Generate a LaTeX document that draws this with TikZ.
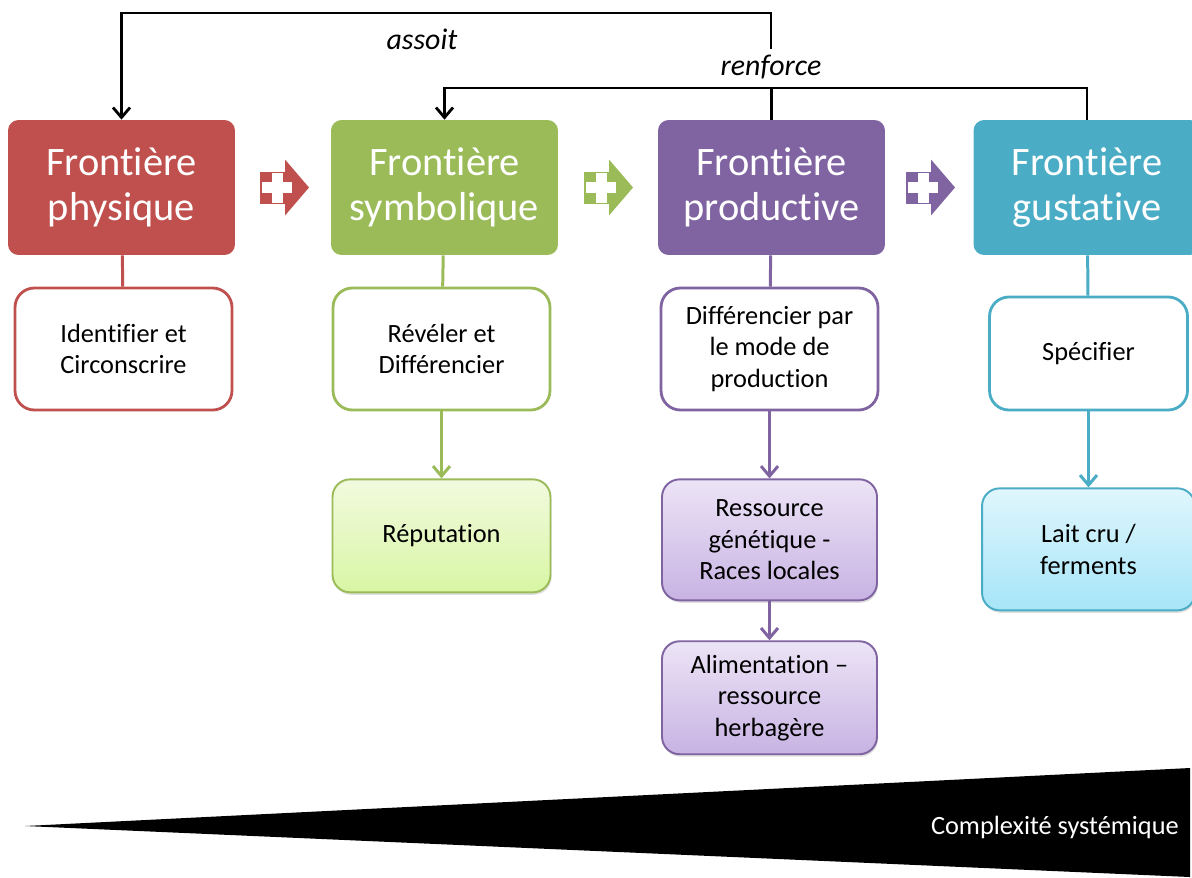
\documentclass[tikz,border=0pt]{standalone}
\usepackage{fontspec}
\setmainfont{Carlito}[Ligatures={TeX,NoCommon}]
\usetikzlibrary{arrows.meta,positioning,shadows}
\definecolor{FrRed}{HTML}{C0504D}
\definecolor{FrGreen}{HTML}{9BBB59}
\definecolor{FrPurple}{HTML}{8064A2}
\definecolor{FrAqua}{HTML}{4BACC6}
\definecolor{ResGreenTop}{HTML}{F2FADF}
\definecolor{ResGreenBot}{HTML}{D8F6A4}
\definecolor{ResPurpleTop}{HTML}{ECE4F6}
\definecolor{ResPurpleBot}{HTML}{C8B3E3}
\definecolor{ResAquaTop}{HTML}{E0F6FD}
\definecolor{ResAquaBot}{HTML}{A6E5F8}
\tikzset{
  frbox/.style={fill=#1, draw=none, rounded corners=6pt, text=white, align=center, minimum width=4.54cm, minimum height=2.7cm, font=\fontsize{23}{25.5}\selectfont},
  stepbox/.style={draw=#1, line width=1.6pt, fill=white, rounded corners=11pt, align=center, minimum width=4.34cm, minimum height=2.44cm, font=\fontsize{15}{18}\selectfont},
  resbox/.style={line width=1.1pt, rounded corners=10pt, align=center, minimum width=4.36cm, minimum height=2.26cm, font=\fontsize{15}{18}\selectfont, drop shadow={opacity=0.25, shadow xshift=0.6pt, shadow yshift=-1.4pt}},
  greenres/.style={resbox, draw=FrGreen, top color=ResGreenTop, bottom color=ResGreenBot},
  purpleres/.style={resbox, draw=FrPurple, top color=ResPurpleTop, bottom color=ResPurpleBot, minimum width=4.3cm},
  aquares/.style={resbox, draw=FrAqua, top color=ResAquaTop, bottom color=ResAquaBot},
  link/.style={line width=1.7pt, draw=#1},
  flow/.style={-{Straight Barb[length=2mm,width=3.4mm]}, line width=1.7pt, draw=#1},
  blackline/.style={line width=1.6pt, draw=black},
  blackarr/.style={-{Straight Barb[length=2mm,width=3.4mm]}, line width=1.6pt, draw=black},
  lbl/.style={font=\fontsize{17}{20}\selectfont\itshape},
  plusarrow/.pic={
    \fill[#1] (0,-16) rectangle (25,16);
    \fill[#1] (25,-28) -- (49,0) -- (25,28) -- cycle;
    \fill[white] (2,-5.5) rectangle (32,5.5);
    \fill[white] (12,-15) rectangle (23,15);
  }
}
\begin{document}
\begin{tikzpicture}[x=0.02cm, y=-0.02cm]
\useasboundingbox (0,0) rectangle (1192,877);
% frontieres
\node[frbox=FrRed] (phys) at (121.5,187.5) {Frontière\\physique};
\node[frbox=FrGreen] (symb) at (444.5,187.5) {Frontière\\symbolique};
\node[frbox=FrPurple] (prod) at (771.5,187.5) {Frontière\\productive};
\node[frbox=FrAqua] (gust) at (1087,187.5) {Frontière\\gustative};
\pic at (260,187.5) {plusarrow=FrRed};
\pic at (584,187.5) {plusarrow=FrGreen};
\pic at (906,187.5) {plusarrow=FrPurple};
% actions
\node[stepbox=FrRed] (ident) at (123.5,349) {Identifier et\\Circonscrire};
\node[stepbox=FrGreen] (revel) at (441.5,349) {Révéler et\\Différencier};
\node[stepbox=FrPurple] (diff) at (769.5,349) {Différencier par\\le mode de\\production};
\node[stepbox=FrAqua, minimum width=3.96cm, minimum height=2.26cm] (spec) at (1088.5,353.5) {Spécifier};
% ressources
\node[greenres, below=1.34cm of revel] (rep) {Réputation};
\node[purpleres, minimum height=2.42cm, below=1.34cm of diff] (ress) {Ressource\\génétique -\\Races locales};
\node[purpleres, below=0.78cm of ress] (alim) {Alimentation –\\ressource\\herbagère};
\node[aquares, minimum width=4.26cm, minimum height=2.44cm, below=1.52cm of spec] (lait) {Lait cru /\\ferments};
\draw[link=FrRed] (phys) -- (ident);
\draw[link=FrGreen] (symb) -- (revel);
\draw[link=FrPurple] (prod) -- (diff);
\draw[link=FrAqua] (gust) -- (spec);
\draw[flow=FrGreen] (revel) -- (rep);
\draw[flow=FrPurple] (diff) -- (ress);
\draw[flow=FrPurple] (ress) -- (alim);
\draw[flow=FrAqua] (spec) -- (lait);
% liens du haut
\node[lbl] (renf) at (771,67) {renforce};
\node[lbl] (assoit) at (422,39) {assoit};
\coordinate (topline) at (0,13);
\coordinate (midline) at (0,88);
\draw[blackarr] (renf.north) -- (renf.north |- topline) -| (phys.north);
\draw[blackarr] (prod.north) -- (prod.north |- midline) -| (symb.north);
\draw[blackline] (gust.north) -- (gust.north |- midline) -- (prod.north |- midline);
% complexite
\fill[black] (25,826) -- (1190,768) -- (1190,877) -- cycle;
\node[anchor=east, text=white, font=\fontsize{15}{18}\selectfont] (cplx) at (1185,827) {Complexité systémique};
\end{tikzpicture}
\end{document}
